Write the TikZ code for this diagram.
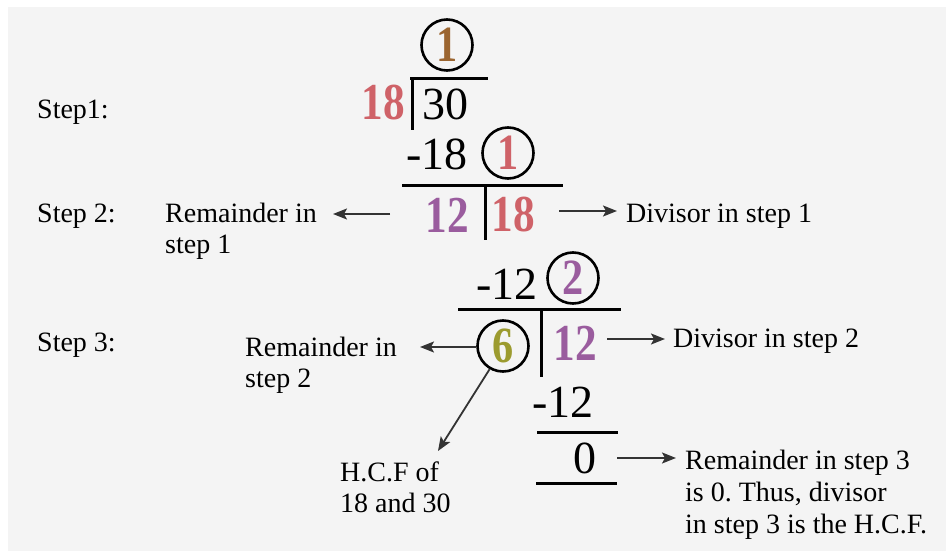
\documentclass[tikz,border=0pt]{standalone}
\usepackage{fontspec}
\setmainfont{Liberation Serif}
\usetikzlibrary{arrows.meta}
\frenchspacing
\definecolor{bg}{HTML}{F4F4F4}
\definecolor{pinkn}{HTML}{CF6268}
\definecolor{brownn}{HTML}{9B6530}
\definecolor{purplen}{HTML}{9A5C9E}
\definecolor{oliven}{HTML}{9C9B2F}
\definecolor{arrc}{HTML}{333333}
\newcommand\bnum[1]{\scalebox{0.9}[1.08]{#1}}
\tikzset{
  num/.style={inner sep=0pt, font=\fontsize{46}{46}\selectfont},
  cnum/.style={inner sep=0pt, font=\fontsize{48}{48}\selectfont\bfseries},
  circ/.style={circle, draw=black, line width=2.6pt, minimum size=51pt, inner sep=0pt, font=\fontsize{47}{47}\selectfont\bfseries},
  lab/.style={anchor=base west, inner sep=0pt, align=left, font=\fontsize{28}{31}\selectfont},
  bar/.style={line width=3pt, black},
  arr/.style={line width=1.8pt, arrc, -{Stealth[length=14pt, width=11pt, inset=3pt]}}
}
\begin{document}
\begin{tikzpicture}[x=1pt, y=-1pt]
\useasboundingbox (0,0) rectangle (946,557);
\fill[white] (0,0) rectangle (946,557);
\fill[bg] (8,7) rectangle (946,551);

% step labels
\node[lab] (s1) at (37,118) {Step1:};
\node[lab] (s2) at (37,222) {Step 2:};
\node[lab] (s3) at (37,351) {Step 3:};

% step 1
\node[circ, text=brownn] (c1) at (447,45) {\bnum{1}};
\node[cnum, text=pinkn] (d18a) at (383,103) {\bnum{18}};
\node[num] (d30) at (445,104) {30};
\draw[bar] (410,78) -- (488,78);
\draw[bar] (412,78) -- (412,130);
\node[num] (m18) at (437,154) {-18};
\node[circ, text=pinkn] (c2) at (508,153) {\bnum{1}};

% step 2
\draw[bar] (402,185) -- (563,185);
\node[cnum, text=purplen] (n12a) at (447,215) {\bnum{12}};
\node[cnum, text=pinkn] (n18b) at (513,215) {\bnum{18}};
\draw[bar] (485,185) -- (485,240);
\node[lab] (rem1) at (165,253) {Remainder in\\step 1};
\node[lab] (div1) at (626,222) {Divisor in step 1};
\coordinate (a1s) at (390,214);
\coordinate (a1e) at (333,214);
\draw[arr] (a1s) -- (a1e);
\coordinate (a2s) at (559,211);
\coordinate (a2e) at (617,211);
\draw[arr] (a2s) -- (a2e);

% step 3
\node[num] (m12a) at (507,284) {-12};
\node[circ, text=purplen] (c3) at (573,278) {\bnum{2}};
\draw[bar] (458,309) -- (621,309);
\draw[bar] (541,309) -- (541,377);
\node[circ, text=oliven] (c6) at (503,346) {\bnum{6}};
\node[cnum, text=purplen] (n12b) at (575,343) {\bnum{12}};
\node[lab] (rem2) at (245,387) {Remainder in\\step 2};
\node[lab] (div2) at (673,347) {Divisor in step 2};
\coordinate (a3s) at (607,339);
\coordinate (a3e) at (665,339);
\draw[arr] (a3s) -- (a3e);
\coordinate (a4e) at (420,347);
\draw[arr] (c6.west |- a4e) -- (a4e);
\coordinate (a5e) at (438,451);
\draw[arr] (c6.240) -- (a5e);
\node[lab] (hcf) at (340,512) {H.C.F of\\18 and 30};

\node[num] (m12b) at (563,402) {-12};
\draw[bar] (537,432) -- (618,432);
\node[num] (z0) at (585,458) {0};
\draw[bar] (536,483) -- (617,483);
\coordinate (a6s) at (617,458);
\coordinate (a6e) at (676,458);
\draw[arr] (a6s) -- (a6e);
\node[lab, font=\fontsize{28}{32}\selectfont] (rem3) at (685,533) {Remainder in step 3\\is 0. Thus, divisor\\in step 3 is the H.C.F.};
\end{tikzpicture}
\end{document}
